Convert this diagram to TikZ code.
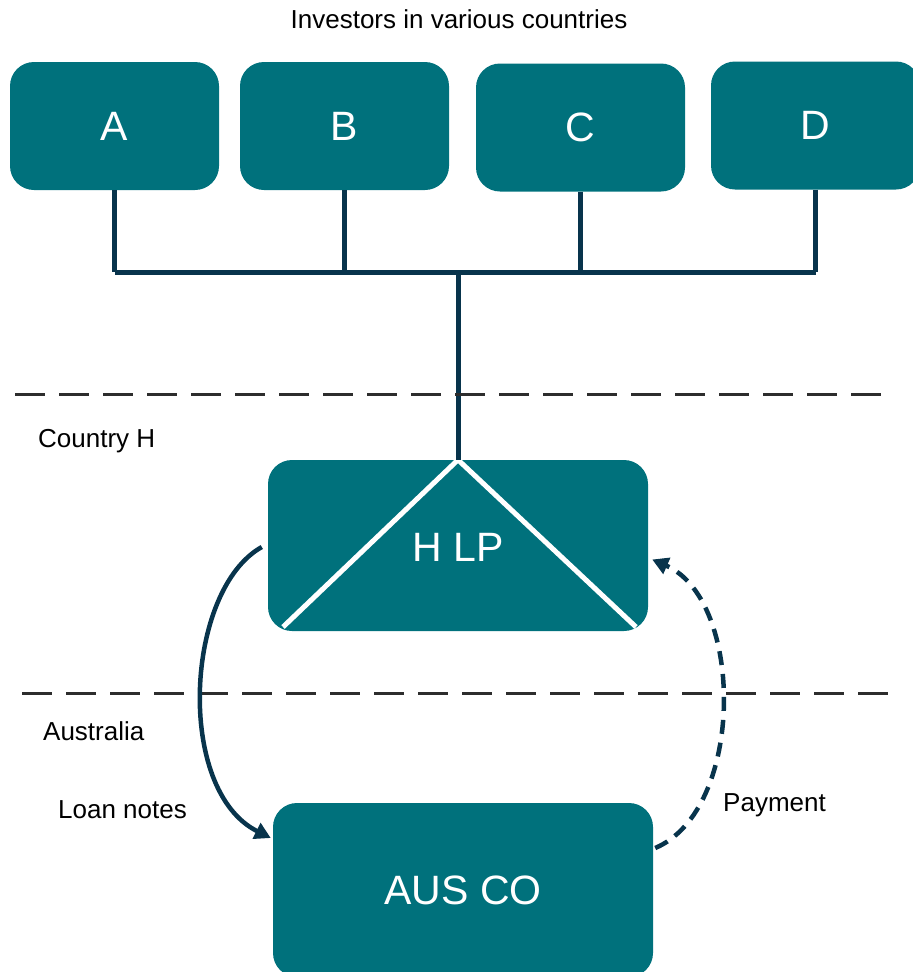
\documentclass[tikz,border=0pt]{standalone}
\usepackage{fontspec}
\setmainfont{Liberation Sans}
\usetikzlibrary{arrows.meta}
\definecolor{teal1}{RGB}{0,113,124}
\definecolor{navy1}{RGB}{8,52,76}
\definecolor{dashgrey}{RGB}{45,45,45}
\tikzset{
  invbox/.style={fill=teal1, rounded corners=24pt, text=white, font=\fontsize{41}{48}\selectfont, inner sep=0pt},
  conn/.style={draw=navy1, line width=5pt},
  border/.style={draw=dashgrey, line width=3pt, dash pattern=on 30pt off 14pt},
  lbl/.style={font=\fontsize{26}{30}\selectfont, text=black, inner sep=0pt},
  flow/.style={draw=navy1, line width=4.5pt, -{Triangle[length=16pt,width=17pt]}},
}
\begin{document}
\begin{tikzpicture}[x=1pt,y=-1pt]
\useasboundingbox (0,0) rectangle (913,972);
\clip (0,0) rectangle (913,972);
% investor boxes
\node[invbox, minimum width=209pt, minimum height=128pt] (A) at (114.5,126) {A};
\node[invbox, minimum width=209pt, minimum height=128pt] (B) at (344.5,126) {B};
\node[invbox, minimum width=209pt, minimum height=128pt] (C) at (580.5,127.5) {C};
\node[invbox, minimum width=209pt, minimum height=128pt] (D) at (815.5,125.5) {D};
\node[lbl] (title) at (459,19) {Investors in various countries};
% H LP
\node[invbox, minimum width=380pt, minimum height=171pt] (hlp) at (458,545.5) {};
\node[text=white, font=\fontsize{41}{48}\selectfont, inner sep=0pt] (hlpt) at (458,547) {H LP};
\draw[white, line width=5pt] (283,627) -- (hlp.north) -- (636,627);
% AUS CO
\node[invbox, minimum width=380pt, minimum height=174pt] (aus) at (463,890) {AUS CO};
% ownership connectors
\coordinate (jA) at (A.south |- 0,272);
\coordinate (jB) at (B.south |- 0,272);
\coordinate (jC) at (C.south |- 0,272);
\coordinate (jD) at (D.south |- 0,272);
\coordinate (jH) at (hlp.north |- 0,272);
\draw[conn] (A.south) -- (jA);
\draw[conn] (B.south) -- (jB);
\draw[conn] (C.south) -- (jC);
\draw[conn] (D.south) -- (jD);
\draw[conn] (jA) -- (jD);
\draw[conn] (jH) -- (hlp.north);
% borders
\coordinate (b1l) at (15,394); \coordinate (b1r) at (885,394);
\coordinate (b2l) at (22,693); \coordinate (b2r) at (893,693);
\draw[border] (b1l) -- (b1r);
\draw[border] (b2l) -- (b2r);
% labels
\node[lbl, anchor=west] (ch) at (38,441) {Country H};
\node[lbl, anchor=west] (au) at (43,731) {Australia};
\node[lbl, anchor=west] (ln) at (58,810) {Loan notes};
\node[lbl, anchor=west] (pay) at (723,805) {Payment};
% flows
\coordinate (lnS) at ([xshift=-6pt,yshift=-1.5pt]hlp.west);
\coordinate (lnE) at ([xshift=-2pt,yshift=52pt]aus.west);
\draw[flow] (lnS) .. controls (185,590) and (175,790) .. (lnE);
\coordinate (pS) at ([xshift=2pt,yshift=42pt]aus.east);
\coordinate (pE) at ([xshift=4pt,yshift=-14pt]hlp.east);
\draw[flow, dash pattern=on 14pt off 9pt] (pS) .. controls (745,810) and (745,600) .. (pE);
\end{tikzpicture}
\end{document}
